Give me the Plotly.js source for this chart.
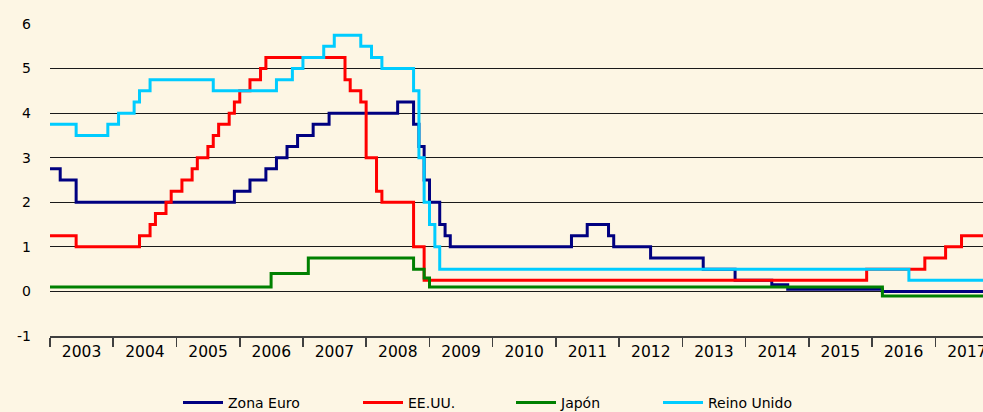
<!DOCTYPE html>
<html>
<head>
<meta charset="utf-8">
<script src="https://cdn.plot.ly/plotly-3.0.1.min.js"></script>
<style>html,body{margin:0;padding:0;background:#FDF6E4;}#chart{width:983px;height:412px;}</style>
</head>
<body>
<div id="chart"></div>
<script>
// Policy rate change points (month of change) and values, %
var euroDates = ['2003-01-01','2003-03-01','2003-06-01','2005-12-01','2006-03-01','2006-06-01','2006-08-01','2006-10-01','2006-12-01','2007-03-01','2007-06-01','2008-07-01','2008-10-01','2008-11-01','2008-12-01','2009-01-01','2009-03-01','2009-04-01','2009-05-01','2011-04-01','2011-07-01','2011-11-01','2011-12-01','2012-07-01','2013-05-01','2013-11-01','2014-06-01','2014-09-01','2016-03-01','2017-12-01'];
var euroVals = [2.75,2.5,2.0,2.25,2.5,2.75,3.0,3.25,3.5,3.75,4.0,4.25,3.75,3.25,2.5,2.0,1.5,1.25,1.0,1.25,1.5,1.25,1.0,0.75,0.5,0.25,0.15,0.05,0.0,0.0];

var usDates = ['2003-01-01','2003-06-01','2004-06-01','2004-08-01','2004-09-01','2004-11-01','2004-12-01','2005-02-01','2005-04-01','2005-05-01','2005-07-01','2005-08-01','2005-09-01','2005-11-01','2005-12-01','2006-01-01','2006-03-01','2006-05-01','2006-06-01','2007-09-01','2007-10-01','2007-12-01','2008-01-01','2008-03-01','2008-04-01','2008-10-01','2008-12-01','2015-12-01','2016-11-01','2017-03-01','2017-06-01','2017-12-01'];
var usVals = [1.25,1.0,1.25,1.5,1.75,2.0,2.25,2.5,2.75,3.0,3.25,3.5,3.75,4.0,4.25,4.5,4.75,5.0,5.25,4.75,4.5,4.25,3.0,2.25,2.0,1.0,0.25,0.5,0.75,1.0,1.25,1.25];

var jpDates = ['2003-01-01','2006-07-01','2007-02-01','2008-10-01','2008-12-01','2009-01-01','2016-03-01','2017-12-01'];
var jpVals = [0.1,0.4,0.75,0.5,0.3,0.1,-0.1,-0.1];

var ukDates = ['2003-01-01','2003-06-01','2003-12-01','2004-02-01','2004-05-01','2004-06-01','2004-08-01','2005-08-01','2006-08-01','2006-11-01','2007-01-01','2007-05-01','2007-07-01','2007-12-01','2008-02-01','2008-04-01','2008-10-01','2008-11-01','2008-12-01','2009-01-01','2009-02-01','2009-03-01','2016-08-01','2017-12-01'];
var ukVals = [3.75,3.5,3.75,4.0,4.25,4.5,4.75,4.5,4.75,5.0,5.25,5.5,5.75,5.5,5.25,5.0,4.5,3.0,2.0,1.5,1.0,0.5,0.25,0.25];

var seriesNames = ['Zona Euro','EE.UU.','Japón','Reino Unido'];
var yearLabels = ['2003','2004','2005','2006','2007','2008','2009','2010','2011','2012','2013','2014','2015','2016','2017'];
var yearLabelPos = ['2003-07-02','2004-07-02','2005-07-02','2006-07-02','2007-07-02','2008-07-02','2009-07-02','2010-07-02','2011-07-02','2012-07-02','2013-07-02','2014-07-02','2015-07-02','2016-07-02','2017-07-02'];
var yTicks = [-1,0,1,2,3,4,5,6];

var FONT = 'DejaVu Sans, Verdana, sans-serif';
var BG = '#FDF6E4';

function tr(x, y, name, color, leg) {
  return {x: x, y: y, name: name, type: 'scatter', mode: 'lines',
    line: {color: color, width: 3, shape: 'hv'}, legend: leg, hoverinfo: 'skip'};
}

var data = [
  tr(euroDates, euroVals, seriesNames[0], '#000080', 'legend'),
  tr(usDates, usVals, seriesNames[1], '#FF0000', 'legend2'),
  tr(jpDates, jpVals, seriesNames[2], '#008000', 'legend3'),
  tr(ukDates, ukVals, seriesNames[3], '#00CCFF', 'legend4')
];

function leg(x) {
  return {orientation: 'h', x: x, xanchor: 'left', xref: 'container',
    y: 1 - 403/412, yanchor: 'middle', yref: 'container',
    bgcolor: 'rgba(0,0,0,0)', borderwidth: 0, itemwidth: 40,
    font: {family: FONT, size: 14, color: '#000'}};
}

var layout = {
  width: 983, height: 412,
  margin: {l: 50, r: 0, t: 24, b: 76, autoexpand: false},
  paper_bgcolor: BG, plot_bgcolor: BG,
  font: {family: FONT, size: 14, color: '#000'},
  showlegend: true,
  legend: leg(178/983),
  legend2: leg(358/983),
  legend3: leg(511/983),
  legend4: leg(658/983),
  xaxis: {
    type: 'date', range: ['2003-01-01', '2017-10-03'], automargin: false,
    tickvals: yearLabelPos, ticktext: yearLabels, ticklabeloverflow: 'allow',
    ticks: '', ticklabelstandoff: 0,
    minor: {tick0: '2003-01-01', dtick: 'M12', ticks: 'outside', ticklen: 9, tickwidth: 1.5, tickcolor: '#404040', showgrid: false},
    showline: true, linecolor: '#404040', linewidth: 2,
    showgrid: false, zeroline: false,
    tickfont: {family: FONT, size: 15.5, color: '#000'}
  },
  yaxis: {
    range: [-1, 6], tickvals: yTicks, ticktext: yTicks.map(String), automargin: false,
    showgrid: true, gridcolor: '#1a1a1a', gridwidth: 1.2,
    zeroline: false, showline: false, ticks: '', ticklabelstandoff: 18,
    tickfont: {family: FONT, size: 14, color: '#000'}
  }
};

Plotly.newPlot('chart', data, layout, {displayModeBar: false, staticPlot: true});
</script>
</body>
</html>
